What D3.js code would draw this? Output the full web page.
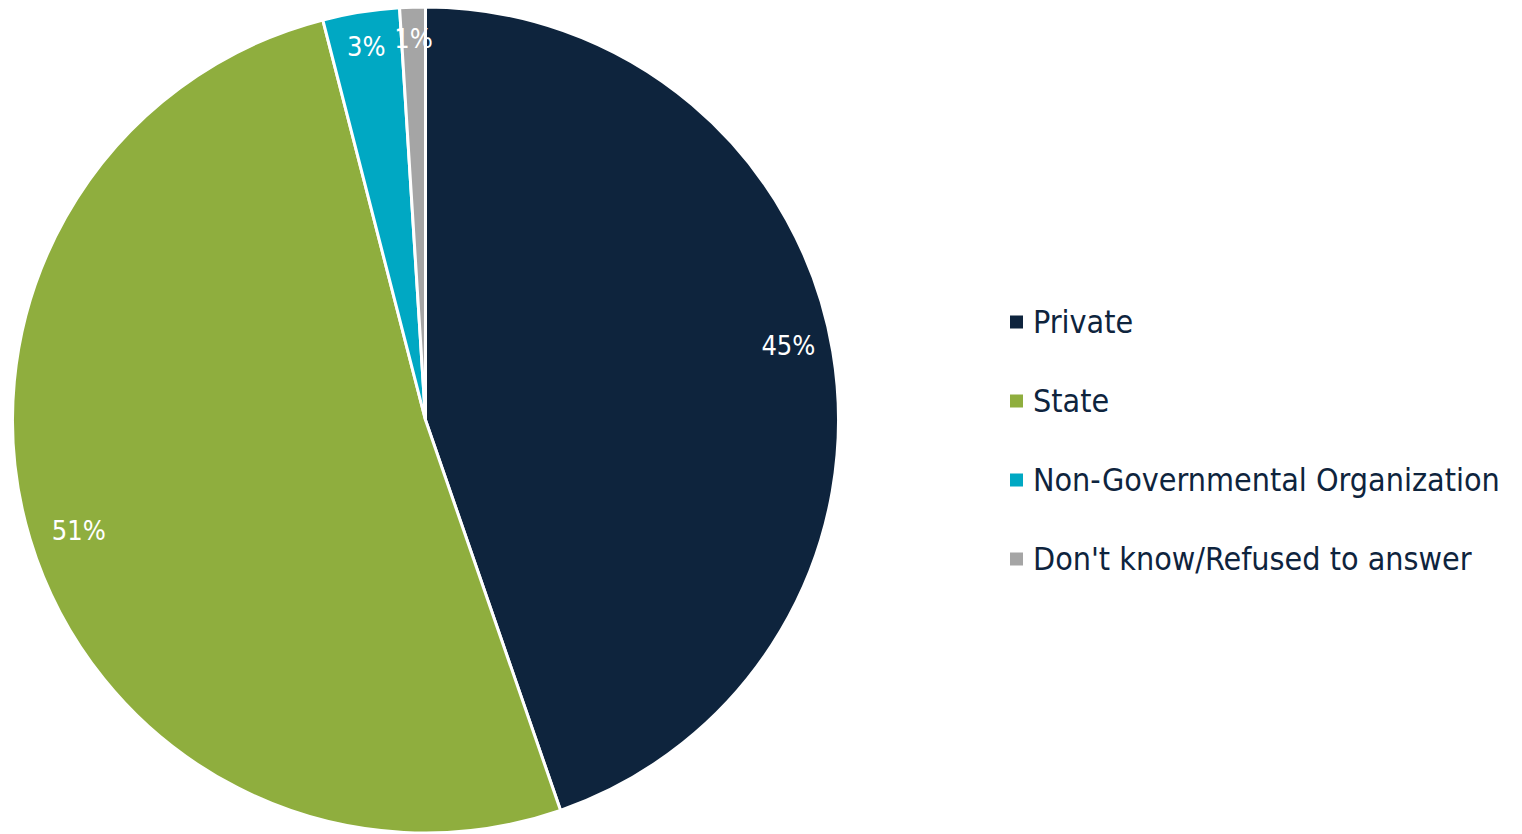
<!DOCTYPE html>
<html>
<head>
<meta charset="utf-8">
<script src="https://cdn.jsdelivr.net/npm/d3@7"></script>
<style>
  html, body { margin: 0; padding: 0; background: #ffffff; }
  svg { display: block; }
</style>
</head>
<body>
<svg id="chart" width="1522" height="834"></svg>
<script>
// Data
const categories = ["Private", "State", "Non-Governmental Organization", "Don't know/Refused to answer"];
const values = [44.7, 51.3, 3.0, 1.0];
const labels = ["45%", "51%", "3%", "1%"];
const colors = ["#0E243D", "#8FAE3E", "#00A8C3", "#A5A5A5"];

const svg = d3.select("#chart");
const cx = 425.5, cy = 420, R = 413;
const font = "'DejaVu Sans Condensed', 'DejaVu Sans', sans-serif";

const pie = d3.pie().sort(null).value(d => d)(values);
const arc = d3.arc().innerRadius(0).outerRadius(R);

const g = svg.append("g").attr("transform", `translate(${cx},${cy})`);
g.selectAll("path.slice").data(pie).enter().append("path")
  .attr("class", "slice")
  .attr("d", arc)
  .attr("fill", (d, i) => colors[i])
  .attr("stroke", "#ffffff")
  .attr("stroke-width", 3)
  .attr("stroke-linejoin", "round");

// label radii / small offsets to mimic inside-end placement
const labelR = [368, 362, 378, 382];
const labelDy = [-14, 6, 0, 0];
g.selectAll("text.lbl").data(pie).enter().append("text")
  .attr("class", "lbl")
  .attr("x", (d, i) => {
    const a = (d.startAngle + d.endAngle) / 2;
    return labelR[i] * Math.sin(a);
  })
  .attr("y", (d, i) => {
    const a = (d.startAngle + d.endAngle) / 2;
    return -labelR[i] * Math.cos(a) + labelDy[i];
  })
  .attr("text-anchor", "middle")
  .attr("dominant-baseline", "central")
  .attr("fill", "#ffffff")
  .style("font-family", font)
  .style("font-size", "27px")
  .text((d, i) => labels[i]);

// Legend
const legendY = d3.scalePoint().domain(categories).range([322, 559]);
const leg = svg.append("g");
const items = leg.selectAll("g.item").data(categories).enter().append("g").attr("class", "item")
  .attr("transform", d => `translate(1010,${legendY(d)})`);
items.append("rect")
  .attr("x", 0).attr("y", -6.5).attr("width", 13).attr("height", 13)
  .attr("fill", (d, i) => colors[i]);
const texts = items.append("text")
  .attr("x", 23).attr("y", 0)
  .attr("dominant-baseline", "central")
  .attr("fill", "#0E243D")
  .style("font-family", font)
  .style("font-size", "30px")
  .text(d => d);

// fit the legend font so the longest entry matches reference width (~467px)
const longest = texts.filter(d => d === categories[2]).node();
const w = longest.getComputedTextLength();
const fs = 30 * 467 / w;
texts.style("font-size", fs + "px");
</script>
</body>
</html>
